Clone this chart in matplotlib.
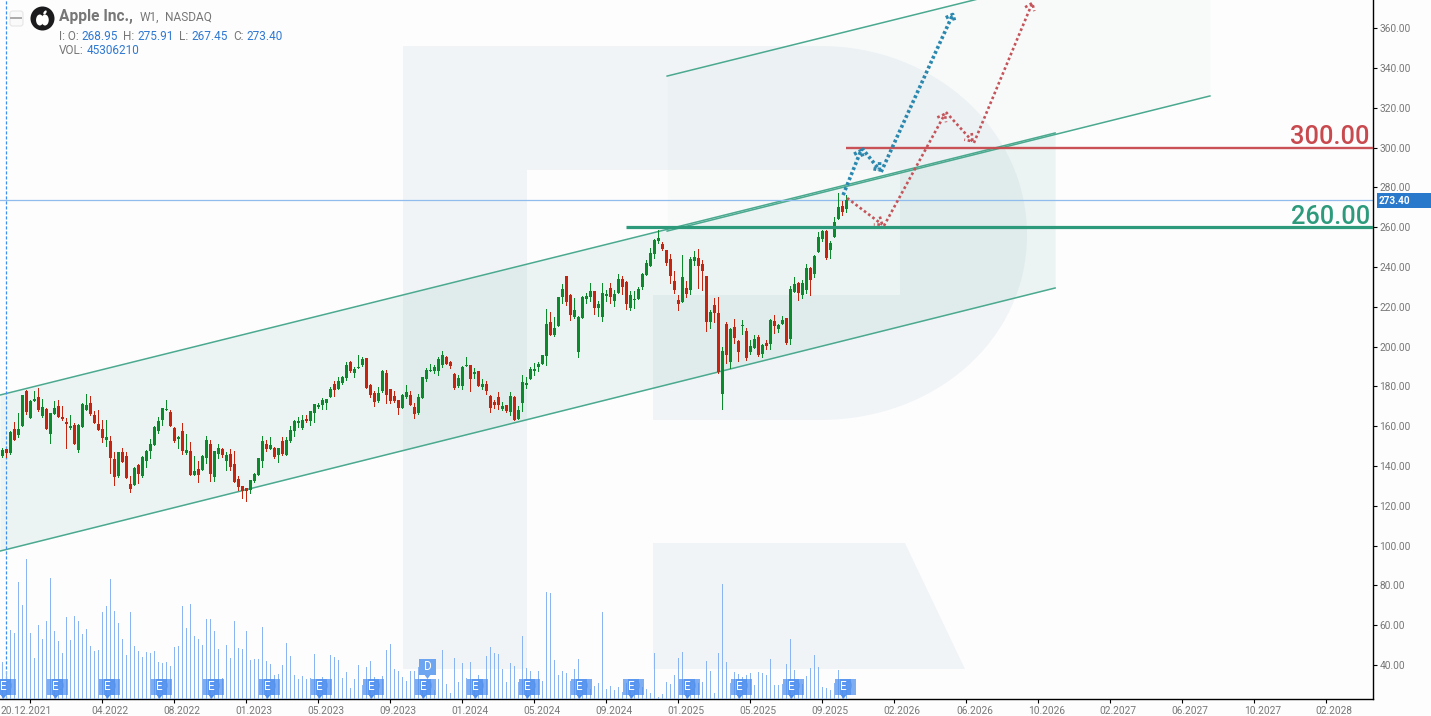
# -*- coding: utf-8 -*-
import numpy as np
import matplotlib
matplotlib.use("Agg")
import matplotlib.pyplot as plt
from matplotlib.patches import Circle, Ellipse, FancyBboxPatch, PathPatch, Polygon, Rectangle
from matplotlib.path import Path
from matplotlib.transforms import ScaledTranslation

plt.rcParams['font.family'] = ['Roboto', 'DejaVu Sans']

# =============================================================================
# data (weekly candles, price in USD, volume in millions)
# =============================================================================
opens = [
    145.0, 148.3, 146.7, 158.6, 155.5, 160.1, 177.6, 164.1, 172.6, 174.6,
    165.1, 168.6, 156.0, 166.1, 170.1, 164.6, 162.1, 159.1, 160.6, 148.0,
    159.6, 168.1, 171.6, 165.6, 161.1, 158.6, 153.0, 152.5, 143.5, 134.9,
    147.0, 145.0, 130.9, 130.4, 140.5, 134.9, 142.5, 147.5, 150.5, 157.5,
    163.1, 168.1, 167.1, 159.1, 153.5, 157.5, 146.5, 147.5, 135.4, 138.4,
    137.9, 144.0, 151.0, 134.4, 146.0, 148.5, 142.5, 146.0, 141.0, 133.4,
    129.9, 128.9, 127.9, 132.4, 135.4, 142.5, 151.0, 148.5, 149.0, 145.5,
    152.5, 145.5, 152.5, 157.5, 161.6, 159.1, 163.6, 162.6, 166.6, 169.6,
    170.6, 171.6, 174.6, 181.2, 178.6, 181.7, 184.2, 192.2, 186.7, 189.4,
    190.7, 194.2, 180.6, 176.6, 172.6, 177.6, 186.7, 178.6, 175.1, 173.1,
    169.1, 174.6, 175.6, 169.6, 166.6, 174.1, 183.7, 187.7, 187.7, 187.7,
    190.7, 194.7, 192.2, 186.2, 180.1, 180.1, 190.2, 190.7, 186.2, 187.7,
    179.6, 181.1, 175.1, 172.1, 174.6, 168.6, 170.6, 167.1, 174.6, 163.6,
    171.6, 180.6, 183.7, 187.7, 189.7, 191.2, 195.2, 212.3, 205.8, 210.3,
    224.9, 235.4, 225.9, 214.8, 197.2, 214.3, 223.9, 224.9, 227.9, 219.3,
    214.8, 225.4, 229.4, 222.9, 226.9, 233.9, 232.4, 219.3, 223.5, 223.9,
    229.9, 235.9, 240.5, 246.5, 253.0, 251.5, 248.5, 244.0, 232.9, 223.4,
    222.4, 229.4, 228.4, 243.0, 244.5, 241.5, 235.4, 212.3, 220.9, 216.8,
    176.1, 211.3, 192.2, 209.8, 202.8, 210.5, 207.8, 197.2, 199.2, 204.8,
    196.2, 201.8, 201.3, 212.8, 208.8, 211.3, 214.3, 203.8, 227.4, 231.9,
    225.9, 228.4, 239.5, 236.4, 247.5, 254.0, 258.0, 248.5, 255.0, 264.1,
    270.6, 268.95]
highs = [
    148.8, 148.5, 157.5, 162.1, 166.4, 175.6, 178.1, 173.1, 177.6, 179.2,
    173.6, 169.1, 166.6, 172.6, 173.1, 170.1, 164.1, 165.6, 161.6, 161.1,
    171.6, 176.1, 175.1, 167.6, 168.1, 163.1, 163.1, 155.0, 147.0, 147.0,
    149.0, 147.0, 134.9, 139.5, 141.0, 145.0, 148.0, 153.5, 160.1, 164.6,
    169.1, 173.1, 168.1, 159.6, 155.0, 161.6, 156.0, 152.0, 145.0, 142.5,
    145.5, 155.0, 153.0, 147.5, 151.0, 149.0, 147.0, 148.5, 147.5, 134.9,
    129.9, 128.9, 132.9, 136.4, 144.0, 155.0, 153.0, 154.5, 149.5, 149.0,
    154.5, 154.5, 160.1, 163.1, 164.6, 165.6, 165.6, 167.6, 171.1, 171.6,
    174.1, 173.6, 179.7, 182.7, 184.7, 185.2, 192.2, 192.7, 189.7, 195.7,
    194.7, 194.2, 181.2, 177.6, 179.6, 188.2, 188.2, 178.6, 177.6, 173.1,
    176.1, 180.6, 177.6, 171.6, 176.1, 184.7, 189.2, 191.2, 190.7, 194.7,
    197.7, 195.2, 192.7, 186.7, 185.7, 190.2, 194.7, 190.7, 189.2, 187.7,
    183.7, 182.7, 175.6, 173.1, 177.1, 172.1, 170.6, 177.1, 175.1, 170.1,
    185.7, 184.7, 189.7, 191.7, 192.2, 195.7, 218.8, 217.3, 214.8, 224.9,
    231.4, 235.4, 226.4, 224.4, 215.3, 225.4, 226.9, 231.9, 227.9, 222.9,
    231.9, 228.4, 231.9, 228.4, 236.4, 235.4, 232.9, 227.9, 227.9, 229.9,
    236.9, 243.5, 249.5, 254.0, 258.5, 252.5, 248.5, 246.5, 237.9, 225.9,
    246.0, 232.9, 245.0, 248.0, 249.0, 243.5, 235.4, 218.3, 224.4, 224.9,
    199.7, 212.3, 209.3, 213.8, 203.3, 213.3, 209.3, 203.3, 205.8, 205.8,
    201.3, 203.3, 213.8, 215.8, 211.3, 215.3, 214.3, 230.4, 234.9, 232.4,
    233.4, 241.5, 240.0, 246.0, 257.5, 258.5, 258.5, 253.0, 265.1, 277.1,
    273.1, 275.91]
lows = [
    144.3, 144.3, 146.0, 153.0, 154.5, 160.1, 166.1, 164.1, 172.6, 167.6,
    164.6, 158.6, 151.5, 166.1, 164.6, 163.1, 149.0, 158.6, 151.0, 147.0,
    159.6, 168.1, 165.6, 161.6, 158.0, 152.0, 150.0, 136.4, 130.4, 134.4,
    142.0, 133.9, 126.9, 130.4, 131.4, 134.4, 139.5, 144.0, 150.5, 156.5,
    160.6, 168.1, 160.1, 152.0, 149.0, 146.0, 146.0, 135.4, 135.4, 131.9,
    137.9, 141.5, 132.4, 132.4, 144.0, 144.5, 137.9, 137.9, 131.9, 127.9,
    123.9, 122.4, 126.4, 131.9, 135.4, 139.5, 147.5, 148.5, 144.0, 142.0,
    145.5, 145.5, 152.0, 155.0, 159.6, 158.6, 162.1, 160.6, 162.1, 169.1,
    168.6, 168.6, 174.6, 175.1, 178.6, 181.2, 183.2, 187.2, 184.7, 189.4,
    190.2, 179.1, 174.6, 170.1, 172.1, 177.1, 171.6, 171.6, 172.1, 166.1,
    169.1, 174.1, 170.6, 164.1, 166.1, 174.1, 182.7, 187.7, 186.7, 185.7,
    189.7, 191.2, 189.2, 178.6, 179.6, 178.6, 190.2, 177.6, 184.2, 180.1,
    178.6, 176.1, 167.1, 169.1, 168.6, 168.1, 167.1, 165.6, 163.1, 163.6,
    167.6, 179.1, 183.7, 185.7, 187.7, 191.2, 190.7, 205.8, 205.3, 210.3,
    221.9, 220.9, 213.3, 214.3, 194.7, 214.3, 221.9, 222.9, 216.3, 215.3,
    212.8, 222.9, 221.9, 220.3, 226.9, 226.4, 218.8, 218.3, 219.3, 223.9,
    228.9, 235.9, 240.5, 244.5, 252.0, 248.5, 241.0, 231.9, 226.9, 218.3,
    222.4, 224.9, 226.4, 241.0, 229.4, 228.4, 207.8, 209.3, 212.3, 186.7,
    168.6, 191.7, 189.2, 201.8, 192.7, 206.3, 193.2, 196.2, 199.2, 195.2,
    194.7, 198.7, 198.7, 206.8, 207.3, 211.3, 201.3, 201.3, 227.4, 223.4,
    224.4, 226.9, 225.9, 234.9, 247.5, 253.0, 244.0, 244.5, 255.0, 264.1,
    266.1, 267.45]
closes = [
    148.0, 146.3, 157.0, 153.0, 158.6, 175.6, 167.1, 172.6, 173.6, 168.1,
    169.6, 158.6, 166.6, 169.1, 164.6, 163.6, 161.1, 160.1, 151.0, 160.6,
    171.1, 170.6, 166.1, 161.6, 158.0, 154.0, 154.5, 144.0, 134.4, 147.0,
    142.0, 133.9, 128.4, 138.9, 135.9, 144.5, 147.5, 151.0, 159.6, 162.6,
    169.1, 168.6, 160.1, 152.5, 154.5, 147.5, 148.0, 135.4, 137.4, 135.4,
    145.0, 153.0, 135.9, 147.5, 149.0, 145.5, 145.5, 139.5, 131.9, 129.4,
    127.4, 127.4, 132.9, 135.9, 144.0, 152.5, 148.5, 150.5, 144.5, 149.0,
    146.0, 153.0, 158.0, 162.6, 162.6, 163.1, 162.6, 167.6, 171.1, 170.6,
    173.1, 173.6, 178.6, 178.1, 182.7, 184.7, 190.7, 187.7, 188.7, 189.7,
    193.7, 179.1, 175.6, 172.1, 176.6, 187.7, 175.6, 172.6, 172.6, 169.1,
    175.6, 177.1, 170.6, 166.1, 174.6, 184.7, 188.2, 188.0, 189.7, 193.7,
    195.7, 191.2, 190.2, 179.1, 184.2, 189.7, 190.5, 183.7, 187.2, 180.1,
    181.1, 177.6, 169.1, 170.6, 170.6, 170.1, 167.6, 175.1, 163.1, 168.1,
    182.2, 181.7, 188.7, 188.7, 191.2, 195.7, 211.3, 205.8, 209.3, 224.9,
    228.9, 222.4, 215.8, 218.3, 214.8, 224.9, 225.4, 227.9, 219.3, 221.4,
    226.9, 226.4, 224.9, 226.4, 233.9, 229.9, 221.4, 225.9, 223.9, 228.9,
    236.4, 242.0, 247.0, 253.5, 254.5, 249.0, 242.0, 235.4, 228.4, 221.4,
    234.9, 226.4, 244.0, 245.0, 240.5, 238.0, 212.3, 217.3, 216.8, 187.2,
    197.7, 195.7, 208.8, 204.3, 197.2, 210.8, 194.2, 200.2, 203.8, 195.6,
    200.7, 200.2, 213.3, 210.3, 210.8, 213.3, 201.8, 228.9, 231.4, 226.9,
    231.9, 239.5, 233.4, 245.5, 255.0, 258.0, 244.5, 252.0, 262.6, 270.1,
    267.6, 273.40]
volumes = [
    111, 80, 207, 198, 351, 282, 420, 198, 123, 222,
    180, 234, 363, 204, 174, 138, 246, 177, 249, 234,
    195, 210, 159, 144, 147, 261, 279, 360, 264, 228,
    180, 132, 261, 159, 144, 126, 141, 138, 144, 111,
    108, 111, 99, 156, 159, 279, 213, 285, 189, 180,
    162, 240, 240, 204, 150, 63, 162, 123, 234, 153,
    150, 204, 117, 120, 120, 216, 114, 105, 72, 75,
    102, 168, 129, 72, 60, 69, 60, 63, 135, 57,
    66, 52, 132, 126, 117, 63, 81, 33, 60, 102,
    42, 96, 114, 66, 54, 69, 147, 165, 90, 84,
    66, 54, 84, 84, 97, 52, 47, 47, 27, 60,
    147, 45, 18, 123, 51, 108, 63, 111, 47, 72,
    47, 129, 156, 138, 135, 90, 51, 108, 99, 51,
    189, 93, 84, 47, 84, 54, 321, 318, 117, 72,
    84, 78, 54, 90, 120, 47, 47, 30, 39, 48,
    261, 30, 39, 27, 36, 21, 47, 47, 47, 27,
    37, 30, 18, 138, 7, 15, 51, 45, 72, 123,
    141, 47, 47, 47, 47, 51, 114, 84, 18, 138,
    345, 111, 48, 81, 75, 66, 72, 78, 42, 81,
    78, 72, 120, 42, 42, 45, 105, 180, 87, 47,
    45, 69, 93, 132, 96, 36, 33, 27, 47, 87,
    37, 32]

# bars that carry an earnings / dividend flag
earnings_bars = [0, 13, 26, 39, 52, 66, 79, 92, 105, 118, 131, 144, 157, 171, 184, 197, 210]
dividend_bar = 105

# date ticks (bar index) and their labels
tick_bars = [7 + 18 * n for n in range(19)]
tick_labels = ['20.12.2021', '04.2022', '08.2022', '01.2023', '05.2023', '09.2023',
               '01.2024', '05.2024', '09.2024', '01.2025', '05.2025', '09.2025',
               '02.2026', '06.2026', '10.2026', '02.2027', '06.2027', '10.2027', '02.2028']
price_ticks = list(range(40, 361, 20))

# drawn channels (bar index, price)
chan1_x = [-0.6, 263.2]
chan1_up = [175.6, 307.3]
chan1_lo = [97.2, 229.4]
chan2_x = [166.2, 301.9]
chan2_up = [335.9, 403.5]
chan2_lo = [258.0, 325.9]

# levels and forecast paths
level_red = 300.0
level_green = 260.0
level_red_start = 211.0
level_green_start = 156.0
last_close = 273.40
blue_x = [210.2, 214.9, 219.7, 237.9]
blue_y = [276.1, 299.7, 287.7, 368.1]
red_x = [211.2, 220.4, 235.9, 242.9, 257.7]
red_y = [274.6, 260.6, 317.8, 302.3, 373.6]

# =============================================================================
# figure and axes
# =============================================================================
W, H = 1431, 716
AX_R, AX_B = 1373, 699
BG = '#fdfdfd'

fig = plt.figure(figsize=(W / 100, H / 100), dpi=100, facecolor=BG)

# pixel axes behind the chart: watermark
bg = fig.add_axes([0, 0, 1, 1], zorder=0)
bg.set_xlim(0, W)
bg.set_ylim(H, 0)
bg.axis('off')

verts = [(403, 46), (820, 46), (935, 46), (1027, 130), (1027, 235), (1027, 340), (935, 420), (820, 420),
         (653, 420), (653, 295), (900, 295), (900, 170), (527, 170), (527, 669), (403, 669), (403, 46)]
codes = [Path.MOVETO, Path.LINETO, Path.CURVE4, Path.CURVE4, Path.CURVE4, Path.CURVE4, Path.CURVE4, Path.CURVE4,
         Path.LINETO, Path.LINETO, Path.LINETO, Path.LINETO, Path.LINETO, Path.LINETO, Path.LINETO, Path.CLOSEPOLY]
bg.add_patch(PathPatch(Path(verts, codes), facecolor='#f1f4f7', edgecolor='none'))
bg.add_patch(Polygon([(653, 543), (905, 543), (965, 669), (653, 669)], facecolor='#f1f4f7', edgecolor='none'))

# price axes
ax = fig.add_axes([0, (H - AX_B) / H, AX_R / W, AX_B / H], zorder=1)
ax.patch.set_alpha(0)
ax.set_xlim(-0.58, 342.67)
ax.set_ylim(300 - (AX_B - 147.5) / 1.99, 300 + 147.5 / 1.99)

for s in ['top', 'left']:
    ax.spines[s].set_visible(False)
for s in ['right', 'bottom']:
    ax.spines[s].set_linewidth(1.0)
    ax.spines[s].set_color('black')

ax.yaxis.tick_right()
ax.set_yticks(price_ticks)
ax.set_yticklabels(['%.2f' % p for p in price_ticks])
ax.set_xticks(tick_bars)
ax.set_xticklabels(tick_labels)
ax.tick_params(axis='both', length=3.2, width=0.8, color='black', labelcolor='#777777', labelsize=7.3, pad=1.5)

# month labels sit to the right of their tick, the first one a bit left
for i, lab in enumerate(ax.get_xticklabels()):
    dx = -4 if i == 0 else 8
    lab.set_transform(lab.get_transform() + ScaledTranslation(dx / 100, 0, fig.dpi_scale_trans))

# channels
ax.fill_between(chan1_x, chan1_lo, chan1_up, color='#2e9b7e', alpha=0.085, lw=0, zorder=1)
ax.fill_between(chan2_x, chan2_lo, chan2_up, color='#2e9b7e', alpha=0.025, lw=0, zorder=1)
for xs, ys in [(chan1_x, chan1_up), (chan1_x, chan1_lo), (chan2_x, chan2_up), (chan2_x, chan2_lo)]:
    ax.plot(xs, ys, color='#4aa98f', lw=1.1, zorder=2)

# cross hair on the last close and on the second bar
ax.axhline(last_close, color='#8fbcec', lw=0.9, zorder=2)
ax.axvline(1, color='#3f8ff0', lw=0.9, ls=(0, (2.5, 1.5)), zorder=2)

# candles
x = np.arange(len(opens))
o = np.array(opens)
c = np.array(closes)
colors = ['#0b8a2b' if c[i] >= o[i] else '#c6240f' for i in range(len(o))]
ax.vlines(x, lows, highs, colors=colors, lw=0.72, antialiased=False, zorder=3)
ax.bar(x, np.abs(c - o), bottom=np.minimum(o, c), width=0.72, color=colors, lw=0, antialiased=False, zorder=3)

# support / resistance levels
ax.plot([level_red_start, 342.67], [level_red, level_red], color='#c8494e', lw=1.7, alpha=0.95,
        solid_capstyle='butt', zorder=4)
ax.plot([level_green_start, 342.67], [level_green, level_green], color='#2d9a7c', lw=2.3,
        solid_capstyle='butt', zorder=4)
ax.text(341.9, level_red + 1.75, '%.2f' % level_red, color='#c8494e', fontsize=18.3, fontweight='medium',
        ha='right', va='baseline', zorder=6)
ax.text(341.9, level_green + 1.75, '%.2f' % level_green, color='#2d9a7c', fontsize=18.3, fontweight='medium',
        ha='right', va='baseline', zorder=6)

# forecast paths
for i in range(len(blue_x) - 1):
    ax.annotate('', xy=(blue_x[i + 1], blue_y[i + 1]), xytext=(blue_x[i], blue_y[i]), zorder=5,
                arrowprops=dict(arrowstyle='->,head_length=0.35,head_width=0.3', color='#2a87ad', lw=2.6,
                                ls=(0, (0.8, 0.7)), capstyle='butt', shrinkA=0, shrinkB=0, mutation_scale=12))
for i in range(len(red_x) - 1):
    ax.annotate('', xy=(red_x[i + 1], red_y[i + 1]), xytext=(red_x[i], red_y[i]), zorder=5,
                arrowprops=dict(arrowstyle='->,head_length=0.4,head_width=0.3', color='#c4545a', lw=1.9,
                                ls=(0, (1, 1)), capstyle='butt', shrinkA=0, shrinkB=0, mutation_scale=12))

# volume: one pixel of pane height is 3 million here
vol = fig.add_axes(ax.get_position(), zorder=2, sharex=ax)
vol.patch.set_alpha(0)
vol.axis('off')
vol.set_ylim(0, AX_B * 3)
vol.vlines(x, 0, volumes, colors='#8ab4f2', lw=0.72, antialiased=False, zorder=1)

# E and D flags: two see-through boxes on top of each other, as the platform draws them
for k in earnings_bars:
    vol.text(k + 1.7, 36, 'D', color='#a9c8f5', fontsize=8.5, ha='center', va='center', zorder=2)
    vol.add_patch(Rectangle((k - 0.6, 12), 4, 48, facecolor='#4f8fee', alpha=0.72, lw=0, zorder=3))
    vol.add_patch(Rectangle((k - 1.85, 12), 4, 48, facecolor='#4f8fee', alpha=0.72, lw=0, zorder=3))
    vol.add_patch(Polygon([(k - 0.4, 12), (k + 1.0, 12), (k + 0.3, 0)], facecolor='#4f8fee', lw=0, zorder=3))
    vol.text(k + 0.3, 36, 'E', color='white', fontsize=8.5, ha='center', va='center', zorder=4)
vol.add_patch(Rectangle((dividend_bar - 0.85, 72), 4.25, 48, facecolor='#6ea5f0', lw=0, zorder=3))
vol.add_patch(Polygon([(dividend_bar + 0.6, 72), (dividend_bar + 2, 72), (dividend_bar + 1.3, 60)],
                      facecolor='#6ea5f0', lw=0, zorder=3))
vol.text(dividend_bar + 1.35, 96, 'D', color='white', fontsize=8.5, ha='center', va='center', zorder=4)

# pixel axes on top: header and price flag
top = fig.add_axes([0, 0, 1, 1], zorder=3)
top.patch.set_alpha(0)
top.set_xlim(0, W)
top.set_ylim(H, 0)
top.axis('off')

top.add_patch(FancyBboxPatch((10, 11), 13, 15, boxstyle='round,pad=0,rounding_size=2.5',
                             facecolor='#fafafa', edgecolor='#e6e6e6', lw=0.8))
top.plot([11, 21], [18, 18], color='#aaaaaa', lw=1.4)
top.add_patch(Circle((42.5, 18.5), 12, facecolor='#1b1b1d', lw=0))
top.add_patch(Ellipse((39.8, 20), 7.5, 11, facecolor='white', lw=0))
top.add_patch(Ellipse((45, 20), 7.5, 11, facecolor='white', lw=0))
top.add_patch(Ellipse((45, 12.5), 2.6, 4.6, angle=35, facecolor='white', lw=0))

GRAY = '#777777'
BLUE = '#2f78d2'
top.text(59, 16.5, 'Apple Inc.,', color=GRAY, fontsize=11.2, fontweight='bold', va='center')
top.text(140, 17, 'W1,', color=GRAY, fontsize=8.6, va='center')
top.text(165, 17, 'NASDAQ', color=GRAY, fontsize=8.6, va='center')
header = [(59, 'I: O:', GRAY), (81.5, '268.95', BLUE), (123, 'H:', GRAY), (137, '275.91', BLUE),
          (179, 'L:', GRAY), (191, '267.45', BLUE), (233, 'C:', GRAY), (246, '273.40', BLUE)]
for px, s, col in header:
    top.text(px, 36, s, color=col, fontsize=8.5, va='center')
top.text(59, 50, 'VOL:', color=GRAY, fontsize=8.5, va='center')
top.text(87, 50, '45306210', color=BLUE, fontsize=8.5, va='center')

top.add_patch(Rectangle((1377, 193), W - 1377, 15, facecolor='#2878cc', lw=0))
top.text(1378.5, 200.8, '%.2f' % last_close, color='white', fontsize=7.2, fontweight='bold', va='center')

fig.savefig('out.png', dpi=100, facecolor=BG)
